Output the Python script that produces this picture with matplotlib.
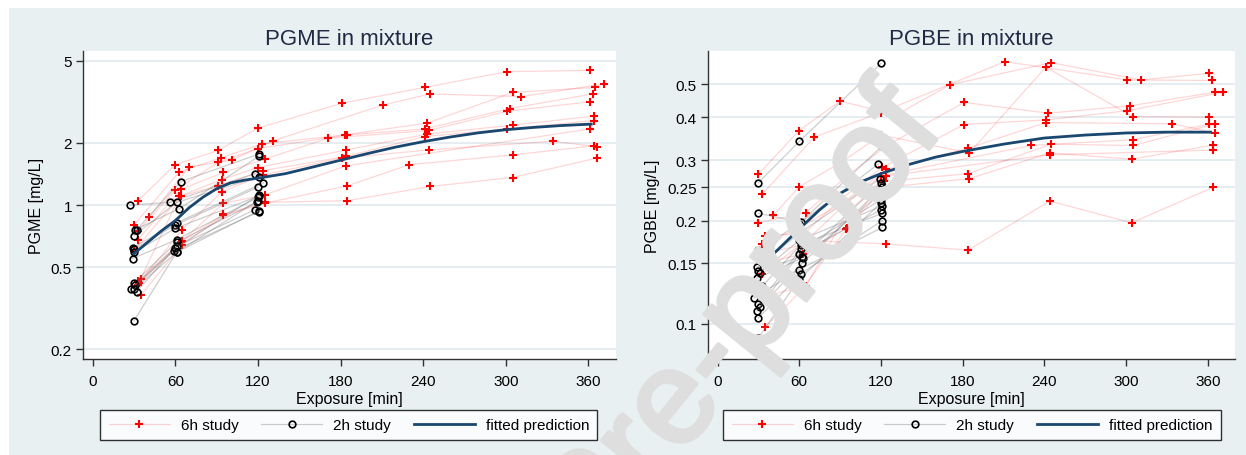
import matplotlib
matplotlib.use("Agg")
import matplotlib.pyplot as plt
import matplotlib.patheffects as pe
from matplotlib.patches import Rectangle
from matplotlib.ticker import FixedLocator, NullLocator, FixedFormatter

plt.rcParams['font.family'] = ['Liberation Sans', 'DejaVu Sans']

# ---- PGME, 6h study (one list per subject) ----
pgme_6h_t = [
    [33, 60, 91, 120, 181, 241, 301, 361],
    [41, 70, 101, 131, 211, 245, 311, 371],
    [30, 63, 93, 123, 183, 243, 305, 365],
    [33, 60, 91, 120, 185, 241, 303, 363],
    [33, 64, 95, 125, 171, 244, 301, 361],
    [30, 64, 94, 120, 184, 243, 305, 364],
    [35, 63, 91, 124, 184, 241, 301, 364],
    [34, 65, 94, 124, 181, 244, 334, 366],
    [33, 65, 95, 125, 184, 361],
    [35, 65, 95, 125, 185, 230, 305, 364],
    [33, 64, 95, 125, 185, 245, 305, 366],
]
pgme_6h_v = [
    [1.05, 1.57, 1.84, 2.36, 3.12, 3.72, 4.44, 4.50],
    [0.875, 1.53, 1.65, 2.05, 3.06, 3.46, 3.36, 3.86],
    [0.80, 1.45, 1.69, 1.98, 2.19, 2.50, 3.52, 3.72],
    [0.75, 1.18, 1.61, 1.88, 2.19, 2.34, 2.94, 3.46],
    [0.68, 1.19, 1.44, 1.67, 2.11, 2.30, 2.85, 3.17],
    [0.60, 1.11, 1.33, 1.52, 1.85, 2.21, 2.44, 2.70],
    [0.44, 1.10, 1.24, 1.47, 1.72, 2.15, 2.34, 2.57],
    [0.42, 0.76, 1.16, 1.40, 1.69, 1.85, 2.04, 1.92],
    [0.41, 0.67, 1.02, 1.12, 1.55, 2.34],
    [0.366, 0.64, 0.89, 1.02, 1.24, 1.57, 1.75, 1.94],
    [0.43, 0.66, 0.90, 1.03, 1.05, 1.23, 1.36, 1.69],
]

# ---- PGME, 2h study ----
pgme_2h_t = [
    [27, 56, 118], [32, 64, 121], [31, 63, 121], [30, 61, 121],
    [29, 61, 124], [30, 60, 120], [30, 60, 121], [29, 61, 120],
    [30, 61, 119], [31, 61, 118], [28, 59, 121], [30, 61, 120],
    [32, 60, 121], [30, 61, 121],
]
pgme_2h_v = [
    [1.0, 1.03, 1.42], [0.76, 1.30, 1.77], [0.76, 0.96, 1.73], [0.71, 1.03, 1.37],
    [0.62, 0.82, 1.28], [0.61, 0.80, 1.22], [0.59, 0.77, 1.11], [0.55, 0.68, 1.09],
    [0.42, 0.66, 1.03], [0.41, 0.63, 0.95], [0.39, 0.60, 0.93], [0.39, 0.59, 1.05],
    [0.38, 0.62, 1.12], [0.274, 0.59, 0.94],
]

# ---- PGME fitted prediction ----
pgme_fit_t = [30, 40, 50, 60, 70, 80, 90, 100, 110, 120, 140, 160, 180, 200,
              220, 240, 260, 280, 300, 320, 340, 362]
pgme_fit_v = [0.58, 0.66, 0.75, 0.84, 0.97, 1.09, 1.20, 1.28, 1.32, 1.35, 1.42,
              1.53, 1.65, 1.78, 1.91, 2.03, 2.14, 2.24, 2.32, 2.38, 2.43, 2.47]

# ---- PGBE, 6h study ----
pgbe_6h_t = [
    [30, 60, 90, 131, 171, 245, 311, 361],
    [33, 71, 120, 211, 301, 363],
    [41, 60, 91, 120, 185, 241, 305, 361],
    [30, 65, 94, 124, 181, 243, 303, 365],
    [35, 64, 90, 121, 181, 241, 301, 371],
    [33, 60, 93, 124, 184, 241, 334, 365],
    [35, 62, 92, 120, 230, 305, 361],
    [33, 63, 94, 122, 184, 245, 305, 365],
    [34, 64, 95, 123, 185, 244, 304, 364],
    [33, 65, 124, 184, 244, 304, 364],
    [35, 65, 95, 124, 244, 364],
]
pgbe_6h_v = [
    [0.273, 0.366, 0.446, 0.406, 0.498, 0.577, 0.514, 0.537],
    [0.239, 0.350, 0.413, 0.581, 0.514, 0.512],
    [0.207, 0.251, 0.296, 0.355, 0.315, 0.560, 0.402, 0.400],
    [0.197, 0.211, 0.268, 0.330, 0.442, 0.411, 0.432, 0.473],
    [0.180, 0.184, 0.230, 0.286, 0.381, 0.393, 0.418, 0.473],
    [0.171, 0.190, 0.227, 0.282, 0.325, 0.386, 0.383, 0.360],
    [0.160, 0.170, 0.220, 0.270, 0.331, 0.344, 0.382],
    [0.150, 0.160, 0.189, 0.260, 0.274, 0.334, 0.331, 0.382],
    [0.120, 0.129, 0.190, 0.250, 0.265, 0.315, 0.302, 0.332],
    [0.140, 0.175, 0.171, 0.164, 0.228, 0.197, 0.250],
    [0.098, 0.129, 0.210, 0.270, 0.311, 0.321],
]

# ---- PGBE, 2h study ----
pgbe_2h_t = [
    [30, 60, 120], [30, 61, 121], [30, 60, 118], [29, 61, 119],
    [30, 62, 120], [31, 60, 121], [29, 63, 120], [33, 61, 121],
    [27, 60, 121], [30, 61, 120], [31, 62, 121], [29, 60, 120],
    [30, 61, 121], [30, 60, 120],
]
pgbe_2h_v = [
    [0.258, 0.340, 0.574], [0.210, 0.198, 0.330], [0.164, 0.196, 0.292],
    [0.146, 0.185, 0.264], [0.143, 0.157, 0.258], [0.141, 0.175, 0.221],
    [0.136, 0.156, 0.240], [0.129, 0.170, 0.210], [0.119, 0.144, 0.191],
    [0.114, 0.165, 0.230], [0.112, 0.150, 0.250], [0.109, 0.160, 0.215],
    [0.104, 0.140, 0.200], [0.091, 0.135, 0.225],
]

# ---- PGBE fitted prediction ----
pgbe_fit_t = [39, 50, 60, 75, 90, 105, 120, 140, 160, 180, 210, 240, 270, 300, 330, 362]
pgbe_fit_v = [0.157, 0.173, 0.189, 0.215, 0.240, 0.259, 0.274, 0.291, 0.306,
              0.318, 0.334, 0.348, 0.355, 0.360, 0.362, 0.362]

x_ticks = [0, 60, 120, 180, 240, 300, 360]
pgme_yticks = [0.2, 0.5, 1, 2, 5]
pgme_ylabels = ["0.2", "0.5", "1", "2", "5"]
pgbe_yticks = [0.1, 0.15, 0.2, 0.25, 0.3, 0.4, 0.5]
pgbe_ylabels = ["0.1", "0.15", "0.2", "0.25", "0.3", "0.4", "0.5"]

BG = "#e9f0f2"
GRID = "#e3ecef"
NAVY = "#1a476f"
AXC = "#333333"
WM = "#dedede"

W, H = 1246, 456
fig = plt.figure(figsize=(W / 100, H / 100), dpi=100, facecolor="white")
fig.patches.append(Rectangle((9 / W, 0), 1 - 9 / W, 1 - 9 / H, transform=fig.transFigure,
                             facecolor=BG, edgecolor="none", zorder=-10))

ax1 = fig.add_axes([83 / W, 96 / H, 533 / W, 308 / H])
ax2 = fig.add_axes([708 / W, 96 / H, 527 / W, 308 / H])


def draw_panel(ax, t6, v6, t2, v2, tf, vf, yticks, ylabels, ylim, title, ylabel, leg_x):
    ax.set_facecolor("white")
    ax.set_yscale("log")
    for t, v in zip(t6, v6):
        h6, = ax.plot(t, v, color=(1, 0, 0, 0.16), lw=0.9, marker="+", ms=5.5,
                      mew=1.5, mec="red", zorder=2)
    for t, v in zip(t2, v2):
        h2, = ax.plot(t, v, color=(0.45, 0.45, 0.45, 0.35), lw=0.9, marker="o", ms=4.8,
                      mew=1.2, mec="black", mfc="none", zorder=3)
    hf, = ax.plot(tf, vf, color=NAVY, lw=2, zorder=4)

    ax.set_xlim(-7, 380)
    ax.set_ylim(*ylim)
    ax.xaxis.set_major_locator(FixedLocator(x_ticks))
    ax.yaxis.set_major_locator(FixedLocator(yticks))
    ax.yaxis.set_major_formatter(FixedFormatter(ylabels))
    ax.yaxis.set_minor_locator(NullLocator())
    ax.xaxis.set_minor_locator(NullLocator())
    ax.yaxis.grid(True, color=GRID, lw=1.3)
    ax.set_axisbelow(True)
    for s in ["top", "right"]:
        ax.spines[s].set_visible(False)
    for s in ["left", "bottom"]:
        ax.spines[s].set_color(AXC)
        ax.spines[s].set_linewidth(1.0)
    ax.tick_params(axis="both", colors=AXC, length=5, width=1, labelsize=11,
                   labelcolor="black")
    ax.tick_params(axis="x", pad=6)
    ax.tick_params(axis="y", pad=3)
    ax.set_title(title, fontsize=16, color="#1f2a44", pad=5)
    ax.set_xlabel("Exposure [min]", fontsize=11.5, labelpad=2)
    ax.set_ylabel(ylabel, fontsize=11.5, labelpad=5)

    h6.set_label("6h study")
    h2.set_label("2h study")
    hf.set_label("fitted prediction")
    leg = ax.legend(handles=[h6, h2, hf], loc="center", bbox_to_anchor=(leg_x, -0.214),
                    ncol=3, fontsize=11, frameon=True, fancybox=False, edgecolor="black",
                    handlelength=4, handletextpad=0.7, columnspacing=1.5, borderpad=0.55)
    leg.get_frame().set_linewidth(1.0)


draw_panel(ax1, pgme_6h_t, pgme_6h_v, pgme_2h_t, pgme_2h_v, pgme_fit_t, pgme_fit_v,
           pgme_yticks, pgme_ylabels, (0.179, 5.59), "PGME in mixture", "PGME [mg/L]", 0.499)
draw_panel(ax2, pgbe_6h_t, pgbe_6h_v, pgbe_2h_t, pgbe_2h_v, pgbe_fit_t, pgbe_fit_v,
           pgbe_yticks, pgbe_ylabels, (0.079, 0.624), "PGBE in mixture", "PGBE [mg/L]", 0.501)

# watermark
wm = fig.text(945 / W, (H - 130) / H, "Journal Pre-proof", rotation=51, rotation_mode="anchor",
              ha="right", va="baseline", fontsize=96, color=WM, zorder=20)
wm.set_path_effects([pe.withStroke(linewidth=3, foreground=WM)])

fig.savefig("out.png", dpi=100, facecolor="white")
